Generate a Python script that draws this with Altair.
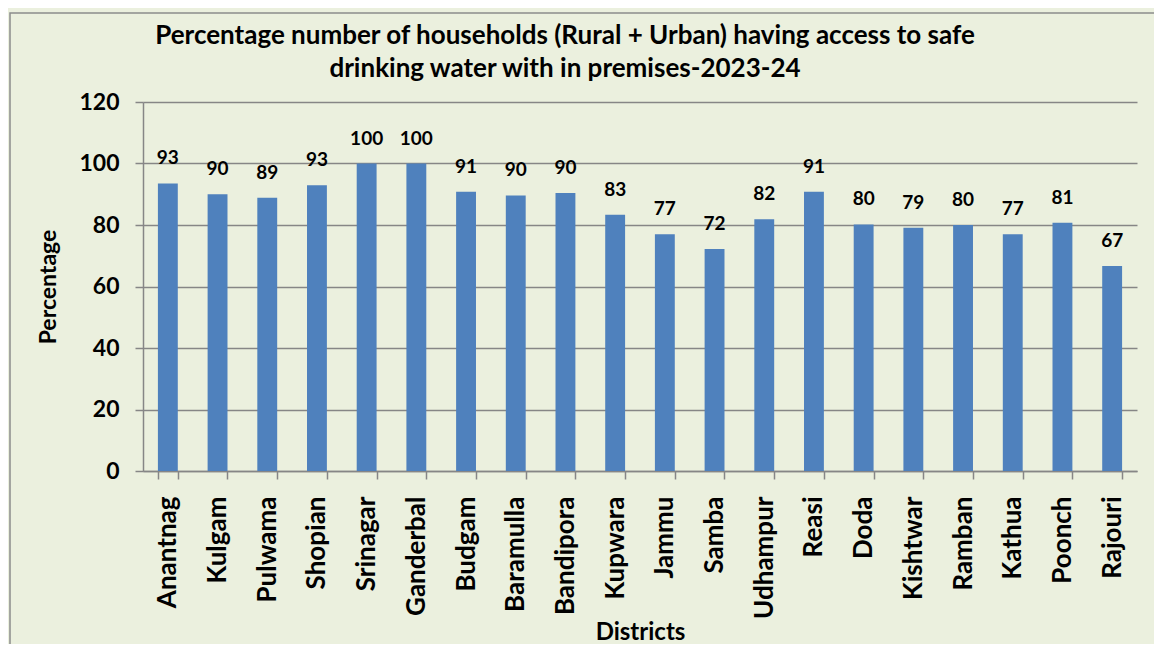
import altair as alt
import pandas as pd

districts = ["Anantnag", "Kulgam", "Pulwama", "Shopian", "Srinagar", "Ganderbal",
             "Budgam", "Baramulla", "Bandipora", "Kupwara", "Jammu", "Samba",
             "Udhampur", "Reasi", "Doda", "Kishtwar", "Ramban", "Kathua",
             "Poonch", "Rajouri"]
values = [93.5, 90.0, 88.9, 92.9, 100.0, 100.0, 90.8, 89.6, 90.4, 83.3, 77.0, 72.2,
          81.9, 90.8, 80.2, 79.1, 80.0, 77.0, 80.7, 66.7]
labels = [93, 90, 89, 93, 100, 100, 91, 90, 90, 83, 77, 72, 82, 91, 80, 79, 80, 77, 81, 67]
y_ticks = [0, 20, 40, 60, 80, 100, 120]
title_lines = ["Percentage number of households (Rural + Urban) having access to safe",
               "drinking water with in premises-2023-24"]

df = pd.DataFrame({"District": districts, "Value": values,
                   "Label": [str(v) for v in labels]})

FONT = "Lato"
GRAY = "#868686"

x_enc = alt.X(
    "District:N", sort=districts, title="Districts",
    scale=alt.Scale(paddingInner=0.6, paddingOuter=0.3),
    axis=alt.Axis(labelAngle=-90, labelFont=FONT, labelFontSize=26, labelFontWeight="bold",
                  labelColor="black", labelPadding=17, tickSize=8, tickColor=GRAY,
                  tickWidth=1.5, domainColor=GRAY, domainWidth=1.5, tickBand="extent",
                  grid=False, titleFont=FONT, titleFontSize=24, titleFontWeight="bold",
                  titleColor="black", titlePadding=2),
)
y_enc = alt.Y(
    "Value:Q", title="Percentage",
    scale=alt.Scale(domain=[0, 120], nice=False),
    axis=alt.Axis(values=y_ticks, labelFont=FONT, labelFontSize=23, labelFontWeight="bold",
                  labelColor="black", labelPadding=16, tickSize=8, tickColor=GRAY,
                  tickWidth=1.5, domainColor=GRAY, domainWidth=1.5, gridColor=GRAY,
                  gridWidth=1.5, titleFont=FONT, titleFontSize=23, titleFontWeight="bold",
                  titleColor="black", titlePadding=18),
)

frame = alt.Chart(pd.DataFrame({"f": [0]})).mark_rect(
    fill=None, stroke="#8C8C8C", strokeWidth=1.5).encode(
    x=alt.value(-133), x2=alt.value(1030), y=alt.value(-89), y2=alt.value(600))

bars = alt.Chart(df).mark_bar(color="#4F81BD").encode(x=x_enc, y=y_enc)
text = alt.Chart(df).mark_text(font=FONT, fontSize=19, fontWeight="bold", color="black",
                               baseline="bottom", dy=-15).encode(
    x=alt.X("District:N", sort=districts), y="Value:Q", text="Label:N")

chart = (frame + bars + text).properties(
    width=994, height=369,
    title=alt.TitleParams(text=title_lines, font=FONT, fontSize=26, fontWeight="bold",
                          color="black", anchor="middle", dx=-75, lineHeight=33, offset=-70),
    autosize=alt.AutoSizeParams(type="none"),
    padding={"left": 135, "top": 94, "right": 17, "bottom": 173},
    background="#EBF0DE",
).configure_view(stroke=None)

chart.save("out.html", embed_options={"renderer": "svg", "actions": False})
